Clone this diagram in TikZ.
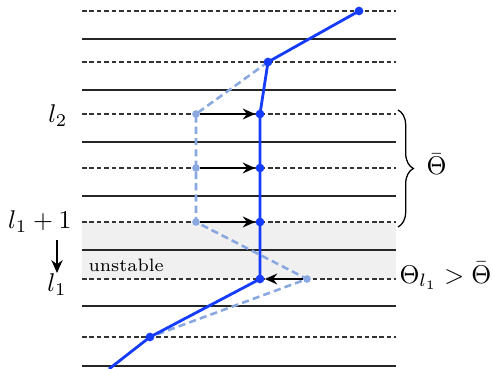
\documentclass[tikz,border=0pt]{standalone}
\usetikzlibrary{arrows.meta,decorations.pathreplacing}
\definecolor{curveblue}{RGB}{20,60,250}
\definecolor{ghostblue}{RGB}{138,168,224}
\definecolor{bandgray}{RGB}{240,240,240}
\tikzset{
  solidrow/.style={draw=black!85,line width=0.5pt},
  dashrow/.style={draw=black!80,line width=0.5pt,dash pattern=on 1.8pt off 1.1pt},
  curve/.style={draw=curveblue,line width=1.1pt},
  ghost/.style={draw=ghostblue,line width=1pt,dash pattern=on 2.8pt off 1.6pt},
  bdot/.style={circle,fill=curveblue,inner sep=0pt,minimum size=3.4pt},
  gdot/.style={circle,fill=ghostblue,inner sep=0pt,minimum size=3pt},
  push/.style={-{Stealth[length=4.8pt,width=4.2pt,inset=1.6pt]},line width=0.9pt,black},
  lab/.style={inner sep=0pt}
}
\begin{document}
\begin{tikzpicture}[x=0.39pt,y=-0.39pt]
\useasboundingbox (0,0) rectangle (493,369);
% unstable band
\fill[bandgray] (82,222) rectangle (396,279);
% grid lines
\foreach \yy in {39,90,142,196,250,306,366} \draw[solidrow] (82,\yy) -- (396,\yy);
\foreach \yy in {11,62,114,168,222,279,337} \draw[dashrow] (82,\yy) -- (396,\yy);
% points
\coordinate (P0) at (359,11);
\coordinate (P1) at (268,62);
\coordinate (P2) at (260,114);
\coordinate (P3) at (260,168);
\coordinate (P4) at (260,222);
\coordinate (P5) at (260,279);
\coordinate (P6) at (150,337);
\coordinate (Pend) at (109,369);
\coordinate (Q2) at (196,114);
\coordinate (Q3) at (196,168);
\coordinate (Q4) at (196,222);
\coordinate (Q5) at (307,279);
% ghost (previous) profile
\draw[ghost] (P1) -- (Q2) -- (Q3) -- (Q4) -- (Q5) -- (P6);
% current profile
\draw[curve] (P0) -- (P1) -- (P2) -- (P3) -- (P4) -- (P5) -- (P6) -- (Pend);
% dots
\foreach \p in {Q2,Q3,Q4,Q5} \node[gdot] (d\p) at (\p) {};
\foreach \p in {P0,P1,P2,P3,P4,P5,P6} \node[bdot] (d\p) at (\p) {};
% arrows
\draw[push] (dQ2) -- (dP2);
\draw[push] (dQ3) -- (dP3);
\draw[push] (dQ4) -- (dP4);
\draw[push] (dQ5) -- (dP5);
% labels
\node[lab,anchor=east] (l2) at (68,116) {$l_2$};
\node[lab,anchor=east] (l1p) at (72,222) {$l_1+1$};
\node[lab,anchor=north] (l1) at (57,273) {$l_1$};
\coordinate (dtop) at (57,240);
\draw[-{Stealth[length=5pt,width=4.4pt,inset=1.6pt]},line width=0.8pt] (dtop) -- (l1.north);
\node[lab,anchor=west,font=\scriptsize] (uns) at (88,265) {unstable};
\node[lab,anchor=base west] (cond) at (399,283) {$\Theta_{l_1}>\bar\Theta$};
\draw[line width=0.5pt,decorate,decoration={brace,amplitude=6pt}] (398,110) coordinate (bt) -- (398,227) coordinate (bb);
\node[lab,anchor=base west] (thb) at (426,175) {$\bar\Theta$};
\end{tikzpicture}
\end{document}
